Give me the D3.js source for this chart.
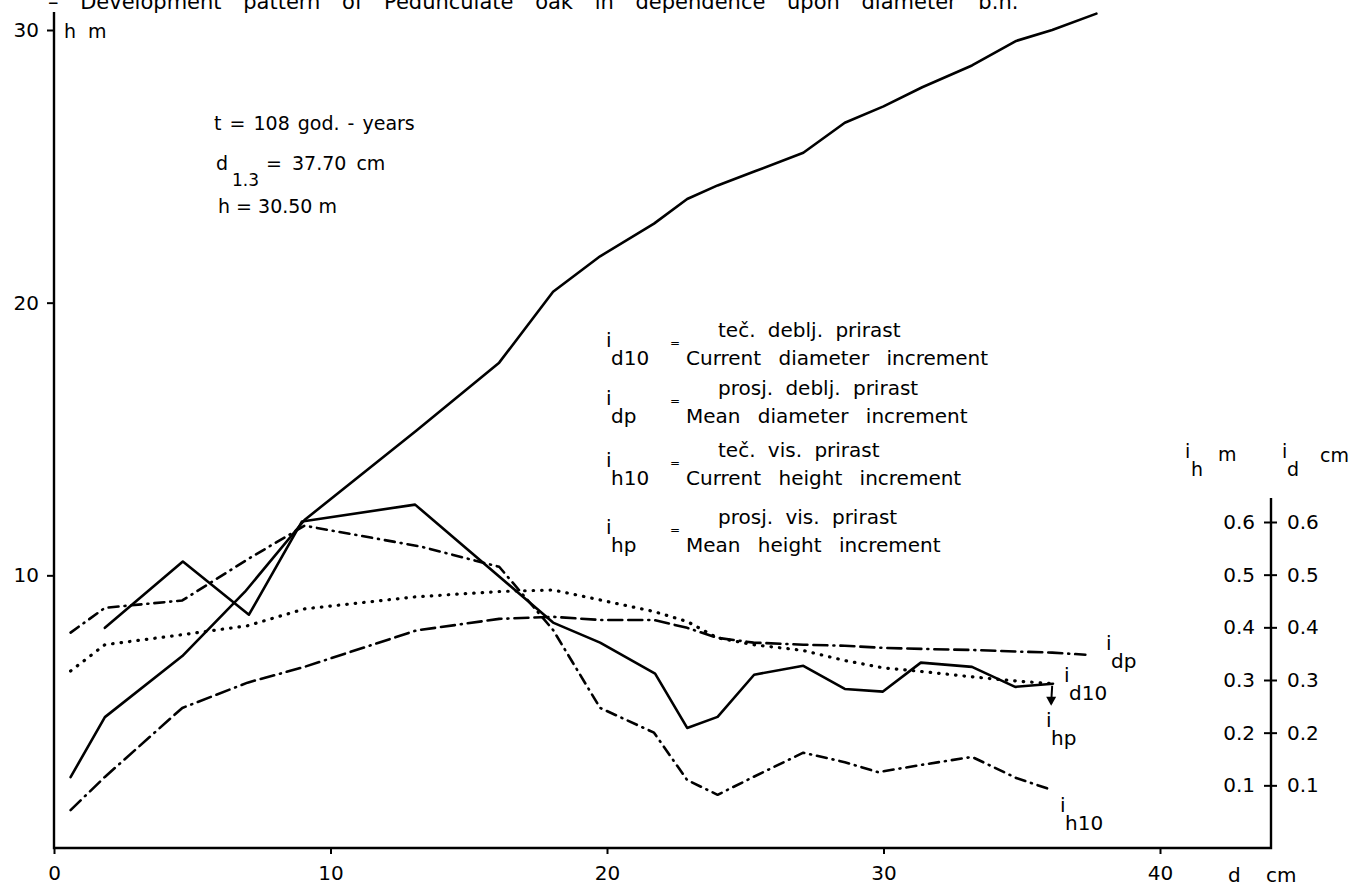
<!DOCTYPE html>
<html>
<head>
<meta charset="utf-8">
<script src="https://cdn.jsdelivr.net/npm/d3@7"></script>
<style>
  body { margin: 0; background: #fff; }
  svg { display: block; }
  text { font-family: "DejaVu Sans", sans-serif; fill: #000; }
</style>
</head>
<body>
<script>
// diameter b.h. (cm) and height (m)
const dH = [0.6, 1.84, 4.64, 6.9, 9.06, 13.1, 16.1, 18.05, 19.75, 21.7, 22.9, 24.0, 25.3, 27.1, 28.6, 30.0, 31.4, 33.2, 34.8, 36.1, 37.7];
const hM = [2.6, 4.8, 7.04, 9.39, 12.03, 15.3, 17.8, 20.4, 21.7, 22.9, 23.8, 24.3, 24.8, 25.5, 26.6, 27.2, 27.9, 28.7, 29.6, 30.0, 30.6];

// current diameter increment i_d10 (cm)
const dId10 = [1.84, 4.66, 7.05, 8.97, 13.06, 18.05, 19.75, 21.74, 22.9, 24.0, 25.32, 27.1, 28.6, 29.98, 31.35, 33.2, 34.76, 36.13];
const id10 = [0.399, 0.525, 0.424, 0.601, 0.633, 0.409, 0.371, 0.312, 0.209, 0.230, 0.310, 0.327, 0.283, 0.278, 0.333, 0.325, 0.287, 0.293];

// current height increment i_h10 (m)
const dIh10 = [0.6, 1.84, 4.64, 7.0, 9.06, 13.3, 16.1, 18.05, 19.75, 21.7, 22.9, 24.0, 25.3, 27.1, 28.6, 29.8, 31.4, 33.2, 34.8, 36.1];
const ih10 = [0.390, 0.437, 0.451, 0.529, 0.593, 0.553, 0.515, 0.395, 0.247, 0.200, 0.110, 0.082, 0.116, 0.162, 0.144, 0.125, 0.139, 0.154, 0.114, 0.091];

// mean height increment i_hp (m)
const dIhp = [0.6, 1.84, 4.64, 7.0, 9.06, 13.1, 16.1, 18.05, 19.75, 21.7, 22.9, 24.0, 25.3, 27.1, 28.6, 30.0, 31.4, 33.2, 34.8, 36.1];
const ihp = [0.317, 0.367, 0.386, 0.403, 0.435, 0.458, 0.468, 0.471, 0.452, 0.430, 0.411, 0.380, 0.367, 0.356, 0.337, 0.323, 0.316, 0.306, 0.298, 0.293];

// mean diameter increment i_dp (cm)
const dIdp = [0.6, 1.84, 4.64, 7.0, 9.06, 13.1, 16.1, 18.05, 19.75, 21.7, 22.9, 24.0, 25.3, 27.1, 28.6, 30.0, 31.4, 33.2, 34.8, 36.1, 37.3];
const idp = [0.053, 0.116, 0.247, 0.295, 0.325, 0.394, 0.416, 0.420, 0.414, 0.414, 0.399, 0.380, 0.371, 0.367, 0.365, 0.361, 0.359, 0.357, 0.354, 0.352, 0.348];

const xTicks = [0, 10, 20, 30, 40];
const yTicks = [10, 20, 30];
const rTicks = [0.1, 0.2, 0.3, 0.4, 0.5, 0.6];

const W = 1360, H = 892;
const svg = d3.select("body").append("svg")
    .attr("width", W).attr("height", H)
    .attr("viewBox", [0, 0, W, H]);
svg.append("rect").attr("width", W).attr("height", H).attr("fill", "#fff");

let x = d3.scaleLinear([0, 40], [54, 1160]);
let y = d3.scaleLinear([0, 30], [848, 30]);
let yR = d3.scaleLinear([0, 0.6], [838, 522]);
const xR = 1271;

// axis lines
svg.append("path")
    .attr("d", `M54,12V848H${xR}V498`)
    .attr("fill", "none").attr("stroke", "#000").attr("stroke-width", 2.4);

function styleAxis(g) {
    g.select(".domain").remove();
    g.selectAll(".tick line").attr("stroke", "#000").attr("stroke-width", 2);
    g.selectAll(".tick text").attr("font-size", 20).attr("fill", "#000");
}

svg.append("g")
    .attr("transform", "translate(0,848)")
    .call(d3.axisBottom(x).tickValues(xTicks).tickSize(6).tickPadding(12).tickFormat(d3.format("d")))
    .call(styleAxis);

svg.append("g")
    .attr("transform", "translate(54,0)")
    .call(d3.axisLeft(y).tickValues(yTicks).tickSize(7).tickPadding(8).tickFormat(d3.format("d")))
    .call(styleAxis);

svg.append("g")
    .attr("transform", `translate(${xR},0)`)
    .call(d3.axisLeft(yR).tickValues(rTicks).tickSize(7).tickPadding(9).tickFormat(d3.format(".1f")))
    .call(styleAxis);

svg.append("g")
    .attr("transform", `translate(${xR},0)`)
    .call(d3.axisRight(yR).tickValues(rTicks).tickSize(6).tickPadding(10).tickFormat(d3.format(".1f")))
    .call(styleAxis);

// curves
function curve(ds, vs, scale, dash) {
    const line = d3.line().x(d => x(d[0])).y(d => scale(d[1]));
    svg.append("path")
        .datum(d3.zip(ds, vs))
        .attr("d", line)
        .attr("fill", "none")
        .attr("stroke", "#000")
        .attr("stroke-width", dash === "dot" ? 3.2 : 2.6)
        .attr("stroke-linecap", "round")
        .attr("stroke-linejoin", "round")
        .attr("stroke-dasharray", dash === "dot" ? "0.5 8" : dash);
}

curve(dH, hM, y, null);
curve(dId10, id10, yR, null);
curve(dIh10, ih10, yR, "10 6 1 6");
curve(dIdp, idp, yR, "14 6 1 6 14 6");
curve(dIhp, ihp, yR, "dot");

// arrow i_hp
svg.append("path")
    .attr("d", `M${x(36.1)},${yR(0.293) + 2}L${x(36.1) - 1},${yR(0.293) + 20}`)
    .attr("stroke", "#000").attr("stroke-width", 2);
svg.append("path")
    .attr("d", `M${x(36.1) - 6},${yR(0.293) + 13}L${x(36.1) - 1},${yR(0.293) + 22}L${x(36.1) + 4},${yR(0.293) + 13}Z`)
    .attr("fill", "#000");

// labels with "i" and subscript
function iLabel(px, py, sub, size) {
    const g = svg.append("g").attr("transform", `translate(${px},${py})`);
    g.append("text").attr("x", 0).attr("y", 0).attr("font-size", size).text("i");
    g.append("text").attr("x", 5).attr("y", 18).attr("font-size", size).text(sub);
}

iLabel(1106, 650, "dp", 20);
iLabel(1064, 682, "d10", 20);
iLabel(1046, 727, "hp", 20);
iLabel(1060, 812, "h10", 20);

// title (cut at top)
svg.append("text")
    .attr("x", 48).attr("y", 9)
    .attr("font-size", 21)
    .attr("word-spacing", 15)
    .text("– Development pattern of Pedunculate oak in dependence upon diameter b.h.");

// axis names
svg.append("text").attr("x", 64).attr("y", 38).attr("font-size", 19).attr("word-spacing", 6).text("h m");
svg.append("text").attr("x", 1228).attr("y", 882).attr("font-size", 20).text("d");
svg.append("text").attr("x", 1266).attr("y", 882).attr("font-size", 20).text("cm");
svg.append("text").attr("x", 1185).attr("y", 458).attr("font-size", 19).text("i");
svg.append("text").attr("x", 1191).attr("y", 476).attr("font-size", 19).text("h");
svg.append("text").attr("x", 1218).attr("y", 461).attr("font-size", 19).text("m");
svg.append("text").attr("x", 1282).attr("y", 458).attr("font-size", 19).text("i");
svg.append("text").attr("x", 1287).attr("y", 476).attr("font-size", 19).text("d");
svg.append("text").attr("x", 1320).attr("y", 462).attr("font-size", 19).text("cm");

// stand data
const info = svg.append("g").attr("font-size", 19);
info.append("text").attr("x", 214).attr("y", 130).attr("word-spacing", 2).text("t = 108 god. - years");
info.append("text").attr("x", 216).attr("y", 170).text("d");
info.append("text").attr("x", 232).attr("y", 186).attr("font-size", 17).text("1.3");
info.append("text").attr("x", 266).attr("y", 170).attr("word-spacing", 4).text("= 37.70 cm");
info.append("text").attr("x", 218).attr("y", 213).text("h = 30.50 m");

// legend
const legendRows = [
    {sub: "d10", top: "teč. deblj. prirast", bottom: "Current diameter increment", y: 337},
    {sub: "dp", top: "prosj. deblj. prirast", bottom: "Mean diameter increment", y: 395},
    {sub: "h10", top: "teč. vis. prirast", bottom: "Current height increment", y: 457},
    {sub: "hp", top: "prosj. vis. prirast", bottom: "Mean height increment", y: 524}
];
const lg = svg.append("g").attr("font-size", 20);
legendRows.forEach(r => {
    lg.append("text").attr("x", 718).attr("y", r.y).attr("word-spacing", 6).text(r.top);
    lg.append("text").attr("x", 686).attr("y", r.y + 28).attr("word-spacing", 11).text(r.bottom);
    lg.append("text").attr("x", 606).attr("y", r.y + 10).text("i");
    lg.append("text").attr("x", 611).attr("y", r.y + 28).text(r.sub);
    lg.append("text").attr("x", 670).attr("y", r.y + 10).attr("font-size", 12).text("=");
});
</script>
</body>
</html>
